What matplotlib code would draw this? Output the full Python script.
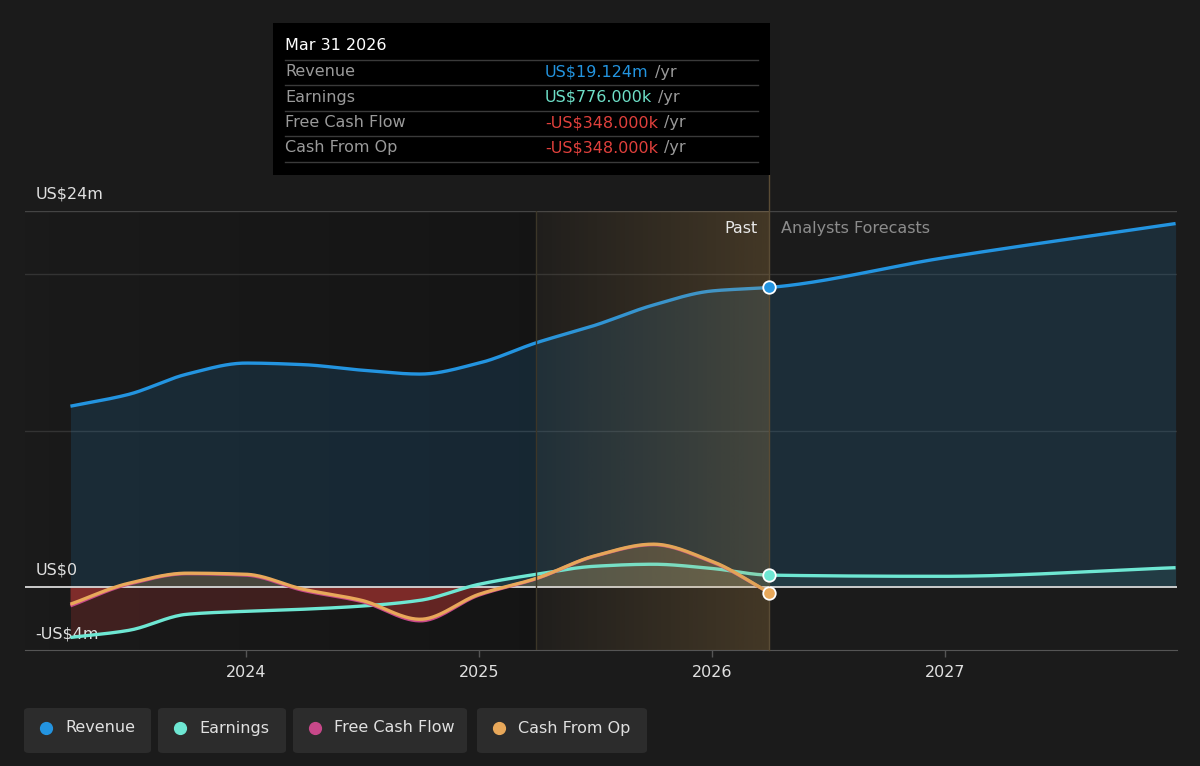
import matplotlib
matplotlib.use("Agg")
import matplotlib.pyplot as plt
import numpy as np
from matplotlib.patches import Rectangle, FancyBboxPatch

# data (US$ m), quarter ends as decimal years
past_t = [2023.247, 2023.496, 2023.748, 2024.0, 2024.247, 2024.496, 2024.748,
          2025.0, 2025.247, 2025.496, 2025.748, 2026.0, 2026.247]
fc_t = [2026.247, 2026.99, 2027.99]

revenue_past = [11.55, 12.3, 13.6, 14.3, 14.2, 13.85, 13.6, 14.3, 15.6, 16.7, 18.0, 18.9, 19.124]
revenue_fc = [19.124, 21.0, 23.2]

earnings_past = [-3.2, -2.75, -1.72, -1.53, -1.4, -1.2, -0.83, 0.19, 0.83, 1.34, 1.47, 1.2, 0.776]
earnings_fc = [0.776, 0.70, 1.25]

cfo_past = [-1.08, 0.25, 0.9, 0.83, -0.13, -0.83, -2.04, -0.45, 0.57, 2.0, 2.75, 1.66, -0.348]
fcf_past = [-1.18, 0.2, 0.87, 0.78, -0.2, -0.9, -2.14, -0.5, 0.55, 1.98, 2.72, 1.62, -0.348]

year_ticks = [2024, 2025, 2026, 2027]

c_rev = "#2394e0"
c_earn = "#6ee7d3"
c_fcf = "#c8488a"
c_cfo = "#e8a85a"
c_red = "#e0403c"
bg = "#1b1b1b"


def smooth(x, y, n=400):
    # monotone cubic (Fritsch-Carlson) for drawing smooth curves through the points
    x = np.asarray(x, float)
    y = np.asarray(y, float)
    h = np.diff(x)
    d = np.diff(y) / h
    m = np.zeros_like(y)
    m[0], m[-1] = d[0], d[-1]
    for k in range(1, len(y) - 1):
        if d[k - 1] * d[k] > 0:
            w1 = 2 * h[k] + h[k - 1]
            w2 = h[k] + 2 * h[k - 1]
            m[k] = (w1 + w2) / (w1 / d[k - 1] + w2 / d[k])
    xs = np.linspace(x[0], x[-1], n)
    idx = np.clip(np.searchsorted(x, xs) - 1, 0, len(x) - 2)
    t = (xs - x[idx]) / h[idx]
    h00 = 2 * t**3 - 3 * t**2 + 1
    h10 = t**3 - 2 * t**2 + t
    h01 = -2 * t**3 + 3 * t**2
    h11 = t**3 - t**2
    ys = h00 * y[idx] + h10 * h[idx] * m[idx] + h01 * y[idx + 1] + h11 * h[idx] * m[idx + 1]
    return xs, ys


fig = plt.figure(figsize=(12, 7.66), dpi=100, facecolor=bg)
ax = fig.add_axes([25 / 1200, 1 - 650 / 766, 1152 / 1200, 439 / 766])
ax.set_facecolor(bg)
x0, x1 = 2023.052, 2027.996
ax.set_xlim(x0, x1)
ax.set_ylim(-4, 24)

split = past_t[-1]
hl_start = 2025.247

# past background darkening + highlight of last year
grad = np.linspace(0, 1, 256).reshape(1, -1)
dark = np.zeros((1, 256, 4))
dark[..., 3] = 0.03 + 0.2 * grad
ax.imshow(dark, extent=[x0, hl_start, -4, 24], aspect="auto", zorder=0.5)
gold = np.zeros((1, 256, 4))
gold[..., 0], gold[..., 1], gold[..., 2] = 0.8, 0.6, 0.3
gold[..., 3] = 0.03 + 0.2 * grad
ax.imshow(gold, extent=[hl_start, split, -4, 24], aspect="auto", zorder=6)
ax.axvline(hl_start, color="#3c3628", lw=1, zorder=6)
ax.plot([split, split], [-4, 26.3], color="#5a4c35", lw=1, zorder=6, clip_on=False)

# grid
for g in [24, 20, 10]:
    ax.axhline(g, color="#444444" if g == 24 else "#333333", lw=1, zorder=1)
ax.axhline(0, color="#d8d8d8", lw=1.3, zorder=4)

rx, ry = smooth(past_t + fc_t[1:], revenue_past + revenue_fc[1:])
ex, ey = smooth(past_t + fc_t[1:], earnings_past + earnings_fc[1:])
cx, cy = smooth(past_t, cfo_past)
fx, fy = smooth(past_t, fcf_past)

ax.fill_between(rx, 0, ry, color=c_rev, alpha=0.15, lw=0, zorder=2)
ax.fill_between(ex, 0, ey, where=ey < 0, color=c_red, alpha=0.2, lw=0, zorder=2, interpolate=True)
ax.fill_between(ex, 0, ey, where=ey >= 0, color=c_earn, alpha=0.08, lw=0, zorder=2, interpolate=True)
for yy in (cy, fy):
    ax.fill_between(cx, 0, yy, where=yy < 0, color=c_red, alpha=0.22, lw=0, zorder=2, interpolate=True)
    ax.fill_between(cx, 0, yy, where=yy >= 0, color=c_cfo, alpha=0.12, lw=0, zorder=2, interpolate=True)

ax.plot(rx, ry, color=c_rev, lw=2.4, zorder=5, solid_capstyle="butt")
ax.plot(ex, ey, color=c_earn, lw=2.4, zorder=5, solid_capstyle="butt")
ax.plot(fx, fy, color=c_fcf, lw=2.4, zorder=5, solid_capstyle="butt")
ax.plot(cx, cy, color=c_cfo, lw=2.4, zorder=5, solid_capstyle="butt")

for val, col in [(revenue_past[-1], c_rev), (earnings_past[-1], c_earn), (cfo_past[-1], c_cfo)]:
    ax.plot([split], [val], "o", ms=9, color=col, mec="white", mew=1.3, zorder=8, clip_on=False)

# axes styling
for s in ["top", "right", "left"]:
    ax.spines[s].set_visible(False)
ax.spines["bottom"].set_color("#555555")
ax.set_yticks([])
ax.set_xticks(year_ticks)
ax.set_xticklabels([str(y) for y in year_ticks])
ax.tick_params(axis="x", colors="#555555", length=5, width=1, labelcolor="#e0e0e0",
               labelsize=11.5, pad=6)

tc = "#e0e0e0"
ax.text(0.009, 24.6, "US$24m", color=tc, fontsize=11.5, va="bottom", ha="left",
        transform=ax.get_yaxis_transform())
ax.text(0.009, 0.65, "US$0", color=tc, fontsize=11.5, va="bottom", ha="left",
        transform=ax.get_yaxis_transform())
ax.text(0.009, -3.45, "-US$4m", color=tc, fontsize=11.5, va="bottom", ha="left",
        transform=ax.get_yaxis_transform(), zorder=3)
ax.text(split - 0.05, 22.9, "Past", color="#e8e8e8", fontsize=11.5, ha="right", va="center", zorder=9)
ax.text(split + 0.05, 22.9, "Analysts Forecasts", color="#8c8c8c", fontsize=11.5, ha="left",
        va="center", zorder=9)


def fpx(x, y):
    return x / 1200, 1 - y / 766


# tooltip
fig.patches.append(Rectangle(fpx(273, 175), 497 / 1200, 152 / 766, transform=fig.transFigure,
                             facecolor="#000000", edgecolor="none", zorder=10))
fig.text(*fpx(285, 46), "Mar 31 2026", color="#ffffff", fontsize=11.5, va="center", zorder=11)
rows = [("Revenue", "US$19.124m", "#2394df"),
        ("Earnings", "US$776.000k", "#6ee0c8"),
        ("Free Cash Flow", "-US$348.000k", "#e0403c"),
        ("Cash From Op", "-US$348.000k", "#e0403c")]
renderer = fig.canvas.get_renderer()
for i, (lab, val, col) in enumerate(rows):
    yc = 72 + i * 25.3
    sep = yc - 12
    fig.add_artist(plt.Line2D([285 / 1200, 758 / 1200], [1 - sep / 766] * 2, color="#3a3a3a",
                              lw=1, transform=fig.transFigure, zorder=11))
    fig.text(*fpx(285, yc), lab, color="#9a9a9a", fontsize=11.5, va="center", zorder=11)
    t = fig.text(*fpx(545, yc), val, color=col, fontsize=11.5, va="center", zorder=11)
    bb = t.get_window_extent(renderer)
    fig.text(bb.x1 / 1200 + 6 / 1200, 1 - yc / 766, "/yr", color="#9a9a9a", fontsize=11.5,
             va="center", zorder=11)
fig.add_artist(plt.Line2D([285 / 1200, 758 / 1200], [1 - 162 / 766] * 2, color="#3a3a3a",
                          lw=1, transform=fig.transFigure, zorder=11))

# legend chips
legend = [("Revenue", c_rev, 24, 151), ("Earnings", c_earn, 158, 286),
          ("Free Cash Flow", c_fcf, 293, 467), ("Cash From Op", c_cfo, 477, 647)]
for name, col, xa, xb in legend:
    fig.patches.append(FancyBboxPatch(fpx(xa, 753), (xb - xa) / 1200, 45 / 766,
                                      boxstyle="round,pad=0,rounding_size=0.004",
                                      transform=fig.transFigure, facecolor="#2c2c2c",
                                      edgecolor="none"))
    fig.add_artist(plt.Line2D([(xa + 22) / 1200], [1 - 728 / 766], marker="o", ms=8.5, color=col,
                              transform=fig.transFigure))
    fig.text(*fpx(xa + 41, 728), name, color="#e0e0e0", fontsize=11.5, va="center")

fig.savefig("out.png", dpi=100, facecolor=bg)
